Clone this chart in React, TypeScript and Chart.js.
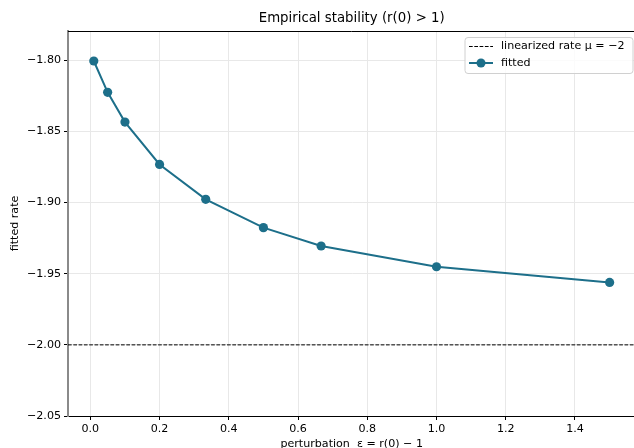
import React, { useEffect, useRef } from "react";
import { Chart, registerables } from "chart.js";

Chart.register(...registerables);

// ---- data ----
const EPS = [0.01, 0.05, 0.1, 0.2, 1 / 3, 0.5, 2 / 3, 1.0, 1.5];
const RATE = [-1.8005, -1.8225, -1.8434, -1.8732, -1.8977, -1.9176, -1.9305, -1.9451, -1.9561];
const MU = -2;
const X_TICKS = [0.0, 0.2, 0.4, 0.6, 0.8, 1.0, 1.2, 1.4];
const Y_TICKS = [-2.05, -2.0, -1.95, -1.9, -1.85, -1.8];
const X_MIN = -0.0645;
const X_MAX = 1.5745;
const Y_MIN = -2.05;
const Y_MAX = -1.7794;

const TITLE = "Empirical stability (r(0) > 1)";
const X_LABEL = "perturbation  ε = r(0) − 1";
const Y_LABEL = "fitted rate";
const LEGEND_MU = "linearized rate μ = −2";
const LEGEND_FIT = "fitted";

const COLOR = "#1d6f8a";
const FONT = "DejaVu Sans";

const fmt = (v: number, d: number) => {
  const s = Math.abs(v).toFixed(d);
  return v < -1e-9 ? "\u2212" + s : s;
};

const decorPlugin = {
  id: "decor",
  afterDraw(chart: any) {
    const { ctx, chartArea } = chart;
    const { left, right, top, bottom } = chartArea;
    ctx.save();
    // top spine
    ctx.strokeStyle = "#000";
    ctx.lineWidth = 1;
    ctx.beginPath();
    ctx.moveTo(left, top + 0.5);
    ctx.lineTo(right, top + 0.5);
    ctx.stroke();

    // title
    ctx.fillStyle = "#000";
    ctx.font = `13.3px '${FONT}'`;
    ctx.textAlign = "center";
    ctx.textBaseline = "middle";
    ctx.fillText(TITLE, (left + right) / 2, 19);

    // x label
    ctx.font = `11.1px '${FONT}'`;
    ctx.fillText(X_LABEL, (left + right) / 2, 444);

    // y label
    ctx.save();
    ctx.translate(15, (top + bottom) / 2);
    ctx.rotate(-Math.PI / 2);
    ctx.fillText(Y_LABEL, 0, 0);
    ctx.restore();

    // legend
    const bx = 465, by = 37.5, bw = 168, bh = 36, r = 3;
    ctx.beginPath();
    ctx.moveTo(bx + r, by);
    ctx.lineTo(bx + bw - r, by);
    ctx.arcTo(bx + bw, by, bx + bw, by + r, r);
    ctx.lineTo(bx + bw, by + bh - r);
    ctx.arcTo(bx + bw, by + bh, bx + bw - r, by + bh, r);
    ctx.lineTo(bx + r, by + bh);
    ctx.arcTo(bx, by + bh, bx, by + bh - r, r);
    ctx.lineTo(bx, by + r);
    ctx.arcTo(bx, by, bx + r, by, r);
    ctx.closePath();
    ctx.fillStyle = "rgba(255,255,255,0.8)";
    ctx.fill();
    ctx.strokeStyle = "#d0d0d0";
    ctx.lineWidth = 1;
    ctx.stroke();

    // row 1
    ctx.strokeStyle = "#000";
    ctx.lineWidth = 1;
    ctx.setLineDash([3.7, 1.6]);
    ctx.beginPath();
    ctx.moveTo(469, 46.5);
    ctx.lineTo(493, 46.5);
    ctx.stroke();
    ctx.setLineDash([]);
    ctx.fillStyle = "#000";
    ctx.textAlign = "left";
    ctx.fillText(LEGEND_MU, 501, 46);

    // row 2
    ctx.strokeStyle = COLOR;
    ctx.lineWidth = 2;
    ctx.beginPath();
    ctx.moveTo(469, 63);
    ctx.lineTo(493, 63);
    ctx.stroke();
    ctx.fillStyle = COLOR;
    ctx.beginPath();
    ctx.arc(481, 63, 4.5, 0, Math.PI * 2);
    ctx.fill();
    ctx.fillStyle = "#000";
    ctx.fillText(LEGEND_FIT, 501, 63);

    ctx.restore();
  },
};

export default function App() {
  const ref = useRef<HTMLCanvasElement | null>(null);

  useEffect(() => {
    document.documentElement.style.overflow = "hidden";
    document.body.style.overflow = "hidden";
    const canvas = ref.current;
    if (!canvas) return;
    const chart = new Chart(canvas, {
      type: "line",
      data: {
        datasets: [
          {
            label: LEGEND_MU,
            data: [
              { x: X_MIN, y: MU },
              { x: X_MAX, y: MU },
            ],
            borderColor: "#000",
            borderWidth: 1,
            borderDash: [3.7, 1.6],
            pointRadius: 0,
            fill: false,
          },
          {
            label: LEGEND_FIT,
            data: EPS.map((x, i) => ({ x, y: RATE[i] })),
            borderColor: COLOR,
            backgroundColor: COLOR,
            borderWidth: 2,
            pointRadius: 4.6,
            pointBorderWidth: 0,
            pointBackgroundColor: COLOR,
            fill: false,
            tension: 0,
          },
        ],
      },
      options: {
        animation: false,
        responsive: false,
        devicePixelRatio: 1,
        layout: { padding: { top: 31, right: 4, left: 0, bottom: 0 } },
        plugins: {
          legend: { display: false },
          title: { display: false },
          tooltip: { enabled: false },
        },
        scales: {
          x: {
            type: "linear",
            min: X_MIN,
            max: X_MAX,
            afterBuildTicks: (s: any) => {
              s.ticks = X_TICKS.map((v) => ({ value: v }));
            },
            afterFit: (s: any) => {
              s.height = 32;
            },
            ticks: {
              font: { family: FONT, size: 11.1 },
              color: "#000",
              padding: 2,
              maxRotation: 0,
              autoSkip: false,
              callback: (v: any) => fmt(Number(v), 1),
            },
            grid: {
              color: "#e8e8e8",
              tickColor: "#000",
              tickLength: 4,
              lineWidth: 1,
            },
            border: { color: "#000", width: 1 },
          },
          y: {
            type: "linear",
            min: Y_MIN,
            max: Y_MAX,
            afterBuildTicks: (s: any) => {
              s.ticks = Y_TICKS.map((v) => ({ value: v }));
            },
            afterFit: (s: any) => {
              s.width = 68;
            },
            ticks: {
              font: { family: FONT, size: 11.1 },
              color: "#000",
              padding: 3,
              autoSkip: false,
              callback: (v: any) => fmt(Number(v), 2),
            },
            grid: {
              color: "#e8e8e8",
              tickColor: "#000",
              tickLength: 4,
              lineWidth: 1,
            },
            border: { color: "#8a8a8a", width: 2 },
          },
        },
      } as any,
      plugins: [decorPlugin],
    });
    return () => chart.destroy();
  }, []);

  return (
    <div style={{ position: "fixed", left: 0, top: 0, width: 640, height: 448, background: "#fff" }}>
      <canvas ref={ref} width={640} height={448} style={{ display: "block", width: 640, height: 448 }} />
    </div>
  );
}
